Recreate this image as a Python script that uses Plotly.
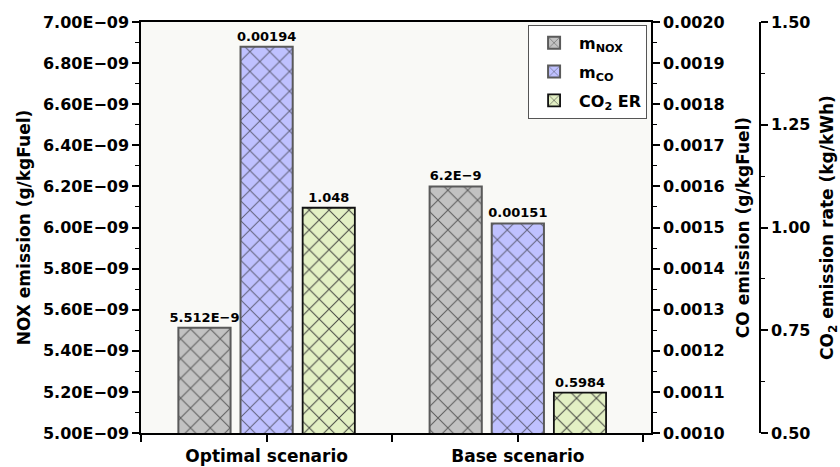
import plotly.graph_objects as go

# ---- data -------------------------------------------------------------
scenarios = ["Optimal scenario", "Base scenario"]
nox_emission = [5.512e-9, 6.2e-9]      # g/kgFuel
co_emission = [0.00194, 0.00151]       # g/kgFuel
co2_rate = [1.048, 0.5984]             # kg/kWh

nox_ticks = [5.0e-9, 5.2e-9, 5.4e-9, 5.6e-9, 5.8e-9, 6.0e-9,
             6.2e-9, 6.4e-9, 6.6e-9, 6.8e-9, 7.0e-9]
co_ticks = [0.0010, 0.0011, 0.0012, 0.0013, 0.0014, 0.0015,
            0.0016, 0.0017, 0.0018, 0.0019, 0.0020]
co2_ticks = [0.50, 0.75, 1.00, 1.25, 1.50]

MINUS = "\u2212"
FONT = "DejaVu Sans"
xpos = list(range(len(scenarios)))
boundaries = [i - 0.5 for i in range(len(scenarios) + 1)]


def sci_label(v):
    return f"{v * 1e9:g}E{MINUS}9"


def sci_tick(v):
    return f"{v:.2E}".replace("-", MINUS)


def pattern(fg):
    return dict(shape="x", size=14, solidity=0.14, fgcolor=fg, fgopacity=0.9)


label_font = dict(family=FONT, size=13, color="black", weight="bold")

fig = go.Figure()

fig.add_trace(go.Bar(
    x=xpos, y=nox_emission, name="m<sub>NOX</sub>", yaxis="y",
    offsetgroup="nox", alignmentgroup="all", legendgroup="nox",
    marker=dict(color="#C2C2C2", line=dict(color="#5A5A5A", width=2),
                pattern=pattern("#505050")),
    text=[sci_label(v) for v in nox_emission], textposition="outside",
    textfont=label_font, constraintext="none", cliponaxis=False,
))
fig.add_trace(go.Bar(
    x=xpos, y=co_emission, name="m<sub>CO</sub>", yaxis="y2",
    offsetgroup="co", alignmentgroup="all", legendgroup="co",
    marker=dict(color="#BFC1FF", line=dict(color="#5A5A5A", width=2),
                pattern=pattern("#55556A")),
    text=[f"{v:g}" for v in co_emission], textposition="outside",
    textfont=label_font, constraintext="none", cliponaxis=False,
))
fig.add_trace(go.Bar(
    x=xpos, y=co2_rate, name="CO<sub>2</sub> ER", yaxis="y3",
    offsetgroup="co2", alignmentgroup="all", legendgroup="co2",
    marker=dict(color="#E3F0C4", line=dict(color="#111111", width=1.8),
                pattern=pattern("#333333")),
    text=[f"{v:g}" for v in co2_rate], textposition="outside",
    textfont=label_font, constraintext="none", cliponaxis=False,
))

tickfont = dict(family=FONT, size=16, color="black", weight="bold")
titlefont = dict(family=FONT, size=17, color="black", weight="bold")
DOMAIN_END = 0.7296

fig.update_layout(
    width=840, height=467,
    margin=dict(l=141, r=0, t=22, b=34),
    paper_bgcolor="white", plot_bgcolor="#F9F9F6",
    barmode="group", bargap=0.258, bargroupgap=0.16,
    font=dict(family=FONT, color="black"),
    showlegend=True,
    legend=dict(
        x=0.724, y=0.993, xanchor="right", yanchor="top",
        bgcolor="white", bordercolor="#555555", borderwidth=1,
        font=dict(family=FONT, size=16, color="black", weight="bold"),
        itemwidth=40, tracegroupgap=5,
    ),
    xaxis=dict(
        domain=[0, DOMAIN_END], range=[-0.5, 1.53],
        tickvals=xpos, ticktext=scenarios,
        ticks="outside", ticklen=7, tickwidth=1.5, tickcolor="black",
        minor=dict(tickvals=boundaries, ticks="outside", ticklen=7,
                   tickwidth=1.5, tickcolor="black", showgrid=False),
        showline=True, linecolor="black", linewidth=1.5, mirror=True,
        showgrid=False, zeroline=False,
        tickfont=dict(family=FONT, size=17, color="black", weight="bold"),
    ),
    yaxis=dict(
        range=[5e-9, 7e-9], tickvals=nox_ticks,
        ticktext=[sci_tick(v) for v in nox_ticks],
        ticks="outside", ticklen=7, tickwidth=1.5, tickcolor="black",
        minor=dict(dtick=1e-10, ticks="outside", ticklen=4, tickwidth=1.2,
                   tickcolor="black", showgrid=False),
        showline=True, linecolor="black", linewidth=1.5,
        showgrid=False, zeroline=False, tickfont=tickfont,
        title=dict(text="NOX emission (g/kgFuel)", font=titlefont, standoff=8),
    ),
    yaxis2=dict(
        overlaying="y", side="right", anchor="x",
        range=[0.001, 0.002], tickvals=co_ticks, tickformat=".4f",
        ticks="outside", ticklen=7, tickwidth=1.5, tickcolor="black",
        minor=dict(dtick=0.00005, ticks="outside", ticklen=4, tickwidth=1.2,
                   tickcolor="black", showgrid=False),
        showline=True, linecolor="black", linewidth=1.5,
        showgrid=False, zeroline=False, tickfont=tickfont,
        title=dict(text="CO emission (g/kgFuel)", font=titlefont, standoff=13),
    ),
    yaxis3=dict(
        overlaying="y", side="right", anchor="free", position=0.8856,
        range=[0.5, 1.5], tickvals=co2_ticks, tickformat=".2f",
        ticks="outside", ticklen=7, tickwidth=1.5, tickcolor="black",
        minor=dict(dtick=0.125, ticks="outside", ticklen=4, tickwidth=1.2,
                   tickcolor="black", showgrid=False),
        showline=True, linecolor="black", linewidth=1.5,
        showgrid=False, zeroline=False, tickfont=tickfont,
        title=dict(text="CO<sub>2</sub> emission rate (kg/kWh)",
                   font=titlefont, standoff=12),
    ),
)

fig.write_html("out.html")
